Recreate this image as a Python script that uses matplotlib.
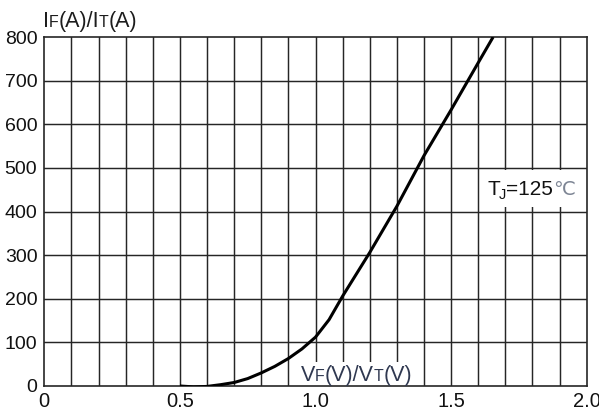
import matplotlib
matplotlib.use("Agg")
import matplotlib.pyplot as plt
from matplotlib.patches import Rectangle
from matplotlib.transforms import IdentityTransform

# ---- data ----
vf = [0.50, 0.55, 0.60, 0.65, 0.70, 0.75, 0.80, 0.85, 0.90, 0.95, 1.00, 1.05,
      1.10, 1.20, 1.30, 1.40, 1.50, 1.60, 1.655]
i_f = [0, -2, -1, 3, 8, 17, 30, 45, 63, 85, 112, 152,
       206, 306, 412, 528, 633, 741, 800]

x_ticks = [0, 0.5, 1.0, 1.5, 2.0]
x_tick_labels = ["0", "0.5", "1.0", "1.5", "2.0"]
y_ticks = [0, 100, 200, 300, 400, 500, 600, 700, 800]
y_tick_labels = ["0", "100", "200", "300", "400", "500", "600", "700", "800"]

W, H, DPI = 599, 412, 100
plt.rcParams['font.family'] = ['Liberation Sans', 'DejaVu Sans']

fig = plt.figure(figsize=(W / DPI, H / DPI), dpi=DPI)
ax = fig.add_axes([44.3 / W, (H - 386) / H, (586.7 - 44.3) / W, (386 - 37) / H])
ax.set_xlim(0, 2.0)
ax.set_ylim(0, 800)

grid_c = '#262626'
# grid every 0.1 V and 100 A
for k in range(1, 20):
    ax.axvline(k / 10, color=grid_c, lw=1.05, zorder=1.5)
for v in y_ticks[1:-1]:
    ax.axhline(v, color=grid_c, lw=1.05, zorder=1.5)
for s in ax.spines.values():
    s.set_color(grid_c)
    s.set_linewidth(1.2)
    s.set_zorder(2.5)

ax.set_xticks(x_ticks)
ax.set_xticklabels(x_tick_labels, fontsize=14.5, color='#111111')
ax.set_yticks(y_ticks)
ax.set_yticklabels(y_tick_labels, fontsize=14, color='#111111')
ax.tick_params(length=0, pad=5)
ax.tick_params(axis='x', pad=4)

ax.plot(vf, i_f, color='black', lw=2.2, zorder=3, solid_capstyle='butt')

# white boxes behind in-plot labels
ax.add_patch(Rectangle((0.924, 1), 0.443, 54, facecolor='white', edgecolor='none', zorder=2))
ax.add_patch(Rectangle((1.625, 411), 0.35, 84, facecolor='white', edgecolor='none', zorder=2))


def pieces(x_disp, y_disp, items):
    renderer = fig.canvas.get_renderer()
    x = x_disp
    for txt, size, color, dy, dx, fam in items:
        x += dx
        t = fig.text(x, y_disp + dy, txt, fontsize=size, color=color, va='baseline',
                     ha='left', transform=IdentityTransform(), zorder=5,
                     family=fam)
        x += t.get_window_extent(renderer).width


fig.canvas.draw()
fam = ['Liberation Sans', 'DejaVu Sans']
lab_c = '#1c1c1c'
# y-axis label
pieces(42.7, H - 26.7, [
    ("I", 15.5, lab_c, 0, 0, fam),
    ("F", 11.5, lab_c, 0, 0, fam),
    ("(A)/I", 15.5, lab_c, 0, 0, fam),
    ("T", 11.5, lab_c, 0, 0, fam),
    ("(A)", 15.5, lab_c, 0, 0, fam),
])

# x-axis label inside the plot
vx, vy = ax.transData.transform((0.945, 0))
vc = '#2f3850'
pieces(vx, vy + 5, [
    ("V", 15.5, vc, 0, 0, fam),
    ("F", 11.5, vc, 0, 0, fam),
    ("(V)/V", 15.5, vc, 0, 0, fam),
    ("T", 11.5, vc, 0, 0, fam),
    ("(V)", 15.5, vc, 0, 0, fam),
])

# junction temperature annotation
tx, ty = ax.transData.transform((1.636, 438))
pieces(tx, ty, [
    ("T", 15, '#111111', 0, 0, fam),
    ("J", 10.5, '#111111', -4, -1.5, fam),
    ("=125", 15, '#111111', 0, -0.5, fam),
    ("\u2103", 14, '#7d8594', 0, 0, ['DejaVu Sans']),
])

fig.savefig("out.png", dpi=DPI)
